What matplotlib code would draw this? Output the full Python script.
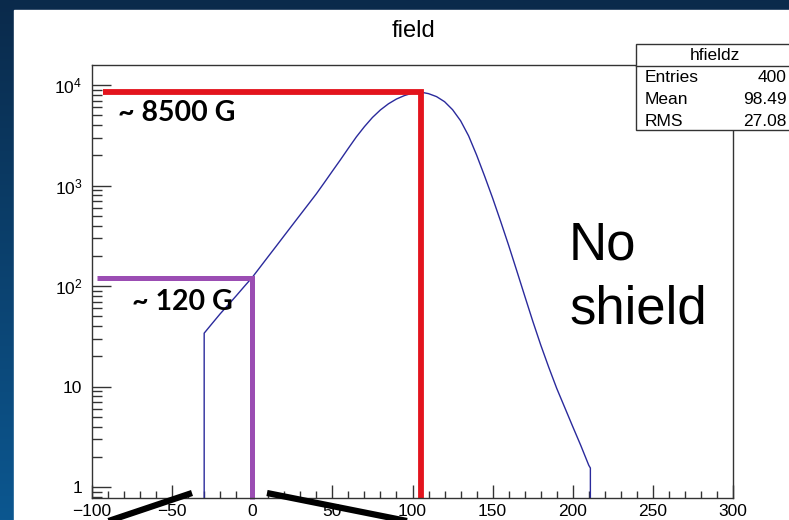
import numpy as np
import matplotlib.pyplot as plt
from matplotlib.patches import Rectangle
from matplotlib.lines import Line2D
from matplotlib.colors import LinearSegmentedColormap
from matplotlib.ticker import FixedLocator, LogLocator, MultipleLocator, NullFormatter

plt.rcParams['font.family'] = ['Liberation Sans', 'DejaVu Sans']
plt.rcParams['mathtext.default'] = 'regular'

W, H = 789, 520

# hfieldz: field (G) along z (0 = empty bin)
z = [-30, -30, -25, -20, -15, -10, -5, 0, 5, 10, 15, 20, 25, 30, 35, 40,
     45, 50, 55, 60, 65, 70, 75, 80, 85, 90, 95, 100, 105, 110, 115, 120,
     125, 130, 135, 140, 145, 150, 155, 160, 165, 170, 175, 180, 185, 190,
     195, 200, 205, 210, 211, 211]
field = [0, 34, 42.5, 53, 65, 80, 99, 122, 155, 197, 250, 318, 404, 513, 651, 827,
         1070, 1390, 1800, 2350, 3050, 3850, 4750, 5650, 6500, 7250, 7850, 8300, 8500, 8200, 7660, 6820,
         5680, 4410, 3120, 2010, 1240, 750, 440, 254, 143, 80, 45, 26, 15.6, 9.6,
         6.2, 4.0, 2.6, 1.65, 1.55, 0]

peak_z, peak_field = 105, 8500
entry_z, entry_field = 0, 120

stats_names = ['Entries', 'Mean', 'RMS']
stats_values = ['400', '98.49', '27.08']

y_ticks = [1, 10, 100, 1000, 10000]
y_labels = ['1', '10', '$10^{2}$', '$10^{3}$', '$10^{4}$']


def fx(px):
    return px / W


def fy(py):
    return 1 - py / H


fig = plt.figure(figsize=(W / 100, H / 100), dpi=100)

# slide background + white picture area
bg = fig.add_axes([0, 0, 1, 1])
cmap = LinearSegmentedColormap.from_list('slide', ['#0a2a4b', '#0c5790'])
bg.imshow(np.linspace(0, 1, 256)[:, None], cmap=cmap, aspect='auto', extent=[0, 1, 0, 1])
bg.add_patch(Rectangle((fx(14), 0), 1, fy(10), color='white'))
bg.set_xlim(0, 1)
bg.set_ylim(0, 1)
bg.axis('off')

ax = fig.add_axes([fx(92), fy(498), fx(733) - fx(92), fy(65) - fy(498)])
ax.set_facecolor('none')
ax.set_yscale('log')
ax.set_xlim(-100, 300)
ax.set_ylim(0.78, 15800)

ax.plot(z, field, color='#2a2a9c', lw=1.0)

# highlighted values
ax.plot([-93, peak_z, peak_z], [peak_field, peak_field, 0.76], color='#e3141d',
        lw=4.2, solid_capstyle='butt', solid_joinstyle='miter', clip_on=False)
ax.plot([-97, entry_z, entry_z], [entry_field, entry_field, 0.76], color='#9b4db3',
        lw=3.6, solid_capstyle='butt', solid_joinstyle='miter', clip_on=False)

ax.xaxis.set_major_locator(MultipleLocator(50))
ax.xaxis.set_minor_locator(MultipleLocator(10))
ax.yaxis.set_major_locator(FixedLocator(y_ticks))
ax.set_yticklabels(y_labels)
ax.yaxis.set_minor_locator(LogLocator(subs=np.arange(2, 10)))
ax.yaxis.set_minor_formatter(NullFormatter())
ax.tick_params(which='both', direction='in', top=False, right=False,
               labelsize=12.5, color='#333333', width=1)
ax.tick_params(axis='y', which='major', length=14, pad=7)
ax.tick_params(axis='y', which='minor', length=7)
ax.tick_params(axis='x', which='major', length=9.5, pad=4)
ax.tick_params(axis='x', which='minor', length=5)
for s in ax.spines.values():
    s.set_color('#333333')
    s.set_linewidth(1)

fig.text(fx(413), fy(37), 'field', ha='center', va='baseline', fontsize=17)

# stats box
fig.patches.append(Rectangle((fx(636), fy(130)), fx(200), (130 - 44) / H,
                             transform=fig.transFigure, fc='white', ec='#333333', lw=1))
fig.lines.append(Line2D([fx(636), 1], [fy(66), fy(66)], transform=fig.transFigure,
                        color='#333333', lw=1))
fig.text(fx(715), fy(55), 'hfieldz', ha='center', va='center', fontsize=12.5)
for i, (n, v) in enumerate(zip(stats_names, stats_values)):
    yy = fy(78 + 21.5 * i)
    fig.text(fx(645), yy, n, ha='left', va='center', fontsize=12.5)
    fig.text(fx(787), yy, v, ha='right', va='center', fontsize=12.5)

# slide annotations
fig.text(fx(118), fy(121), '~ 8500 G', ha='left', va='baseline', fontsize=20.5,
         fontweight='bold', family=['Lato', 'DejaVu Sans'])
fig.text(fx(132), fy(310), '~ 120 G', ha='left', va='baseline', fontsize=20.5,
         fontweight='bold', family=['Lato', 'DejaVu Sans'])
fig.text(fx(569), fy(260), 'No', ha='left', va='baseline', fontsize=38)
fig.text(fx(569), fy(323), 'shield', ha='left', va='baseline', fontsize=38)

fig.lines.append(Line2D([fx(192), fx(40)], [fy(493), fy(544)], transform=fig.transFigure,
                        color='black', lw=4.5, solid_capstyle='butt'))
fig.lines.append(Line2D([fx(267), fx(527)], [fy(493), fy(545)], transform=fig.transFigure,
                        color='black', lw=4.5, solid_capstyle='butt'))

fig.savefig('out.png', dpi=100)
